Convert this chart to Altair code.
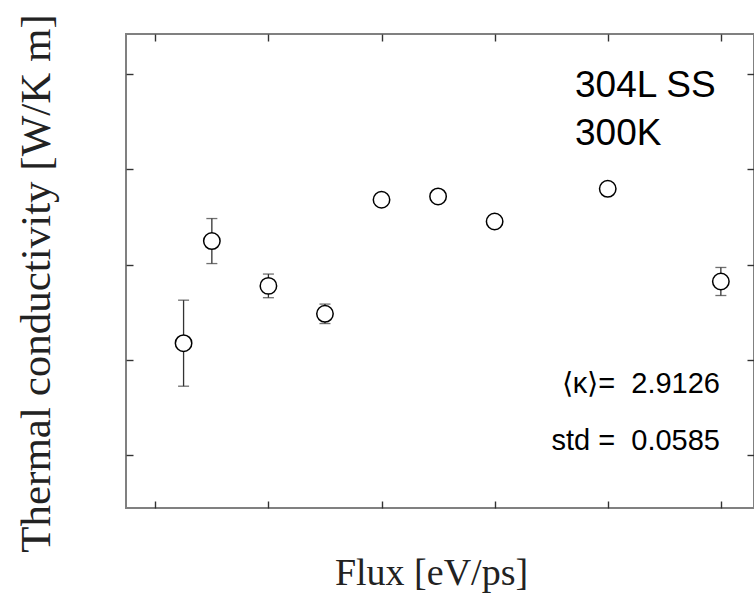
import altair as alt
import pandas as pd

# ---- data ----
flux = [0.25, 0.5, 1, 1.5, 2, 2.5, 3, 4, 5]
kappa = [2.8175, 2.9246, 2.8776, 2.8483, 2.9679, 2.9714, 2.9451, 2.9794, 2.8822]
kappa_err = [0.0451, 0.0236, 0.0124, 0.0102, 0.0, 0.0, 0.0, 0.0, 0.0147]

x_ticks = [0, 1, 2, 3, 4, 5]
y_ticks = [2.7, 2.8, 2.9, 3.0, 3.1]
x_domain = [-0.259, 5.293]
y_domain = [2.6447, 3.1417]

top_labels = ["304L SS", "300K"]
stat_labels = ["⟨κ⟩=\u00a0 2.9126", "std =\u00a0 0.0585"]

df = pd.DataFrame({"flux": flux, "kappa": kappa, "err": kappa_err})
df["lo"] = df["kappa"] - df["err"]
df["hi"] = df["kappa"] + df["err"]

W, H = 628, 474
TITLE_FONT = "Liberation Serif"
TEXT_FONT = "Liberation Sans"

xs = alt.Scale(domain=x_domain, nice=False, zero=False)
ys = alt.Scale(domain=y_domain, nice=False, zero=False)

tick_axis = dict(labels=False, domain=False, grid=False, ticks=True, tickSize=7,
                 offset=-7, tickColor="#333333", tickWidth=1.4)

x_bottom = alt.Axis(values=x_ticks, orient="bottom", title="Flux [eV/ps]",
                    titleFont=TITLE_FONT, titleFontSize=38, titleFontWeight="normal",
                    titleColor="#222222", titleAlign="center", titleBaseline="alphabetic",
                    titleX=305, titleY=83, **tick_axis)
y_left = alt.Axis(values=y_ticks, orient="left", title="Thermal conductivity [W/K m]",
                  titleFont=TITLE_FONT, titleFontSize=43, titleFontWeight="normal",
                  titleColor="#222222", titleAlign="center", titleBaseline="alphabetic",
                  titleAngle=270, titleX=-84, titleY=249, **tick_axis)
x_top = alt.Axis(values=x_ticks, orient="top", title=None, **tick_axis)
y_right = alt.Axis(values=y_ticks, orient="right", title=None, **tick_axis)

base = alt.Chart(df)

bars = base.mark_rule(color="#333333", strokeWidth=1.3).encode(
    x=alt.X("flux:Q", scale=xs, axis=x_bottom),
    y=alt.Y("lo:Q", scale=ys, axis=y_left),
    y2="hi:Q",
)
caps_lo = base.mark_tick(orient="horizontal", size=11, thickness=1.3, color="#333333").encode(
    x=alt.X("flux:Q", scale=xs, axis=x_top),
    y=alt.Y("lo:Q", scale=ys, axis=y_right),
)
caps_hi = base.mark_tick(orient="horizontal", size=11, thickness=1.3, color="#333333").encode(
    x=alt.X("flux:Q", scale=xs, axis=None),
    y=alt.Y("hi:Q", scale=ys, axis=None),
)
points = base.mark_point(shape="circle", size=270, filled=False, fill="white",
                         fillOpacity=1, stroke="black", strokeWidth=1.5, opacity=1).encode(
    x=alt.X("flux:Q", scale=xs, axis=None),
    y=alt.Y("kappa:Q", scale=ys, axis=None),
)


def label(text, px, py, size, align):
    return alt.Chart(pd.DataFrame({"label": [text]})).mark_text(
        font=TEXT_FONT, fontSize=size, align=align, baseline="alphabetic", color="black"
    ).encode(x=alt.value(px), y=alt.value(py), text="label:N")


texts = [
    label(top_labels[0], 449, 63, 37, "left"),
    label(top_labels[1], 449, 111, 37, "left"),
    label(stat_labels[0], 594, 359, 29, "right"),
    label(stat_labels[1], 594, 416, 29, "right"),
]

chart = alt.layer(bars, caps_lo, caps_hi, points, *texts).resolve_axis(
    x="independent", y="independent"
).properties(
    width=W, height=H,
    autosize=alt.AutoSizeParams(type="none"),
    padding={"left": 126, "top": 34, "right": 0, "bottom": 91},
    background="white",
).configure_view(
    stroke="#808080", strokeWidth=2
)

chart.save("out.html", embed_options={"renderer": "svg", "actions": False})
